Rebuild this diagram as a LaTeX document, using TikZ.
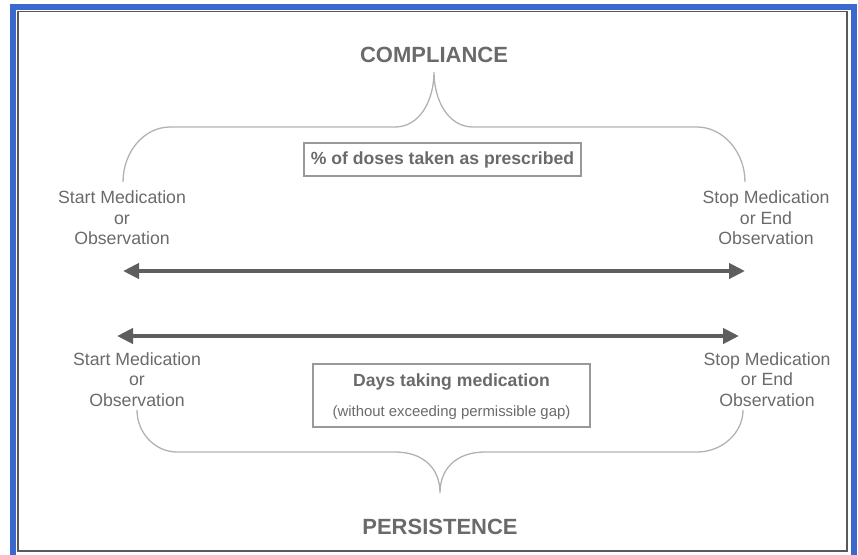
\documentclass[tikz,border=0pt]{standalone}
\usepackage{fontspec}
\setmainfont{Liberation Sans}
\usepackage{tikz}
\usepackage{xcolor}
\usetikzlibrary{arrows.meta, positioning}
\definecolor{frameblue}{HTML}{3A68CF}
\definecolor{txtgray}{HTML}{6A6A6A}
\definecolor{arrgray}{HTML}{5E5E5E}
\definecolor{brcgray}{HTML}{B2B2B2}
\newcommand{\fsz}[1]{\fontsize{#1}{20.5}\selectfont}

\begin{document}
\begin{tikzpicture}[x=1pt, y=-1pt, on grid, node distance=20pt, endtxt/.style={align=center, text=txtgray, font=\fsz{17.7}, inner sep=0pt}, heading/.style={text=txtgray, font=\bfseries\fsz{22}, inner sep=0pt}, box/.style={rectangle, draw=black!40, line width=1.2pt, inner sep=0pt, minimum width=277pt}, span/.style={draw=arrgray, line width=4pt, {Triangle[length=16pt,width=15pt]}-{Triangle[length=16pt,width=15pt]}}, brace/.style={draw=brcgray, line width=1.3pt}]

            \useasboundingbox (0,0) rectangle (858,554);
            \draw[frameblue, line width=6pt] (13,7) rectangle (854,575);
            \draw[black!65, line width=1.5pt] (18,11.5) rectangle (847,551);

            \node[heading] (C) at (434,55) {COMPLIANCE};
            \node[box, minimum height=33pt, text=txtgray, font=\bfseries\fsz{17.6}] (D) at (442.5,159.5) {\% of doses taken as prescribed};
            \node[endtxt] (S1) at (122,218) {Start Medication\\or\\Observation};
            \node[endtxt, right=644pt of S1] (E1) {Stop Medication\\or End\\Observation};
            \node[endtxt] (S2) at (137,379.5) {Start Medication\\or\\Observation};
            \node[endtxt, right=630pt of S2] (E2) {Stop Medication\\or End\\Observation};
            \node[box, minimum height=63pt] (G) at (451.5,395.5) {};
            \node[text=txtgray, font=\bfseries\fsz{17.6}, inner sep=0pt, above=13.5pt of G] (G1) {Days taking medication};
            \node[text=txtgray, font=\fsz{14.9}, inner sep=0pt, below=17.5pt of G] (G2) {(without exceeding permissible gap)};
            \node[heading] (P) at (440,527) {PERSISTENCE};

            \coordinate (a1) at (123,271);
            \coordinate (a2) at (745,271);
            \coordinate (b1) at (117,336);
            \coordinate (b2) at (739,336);
            \coordinate (t1) at (123,182);
            \coordinate (t0) at (434,72);
            \coordinate (t2) at (745,182);
            \coordinate (p1) at (137,410);
            \coordinate (p0) at (440,493);
            \coordinate (p2) at (743,410);

            \draw[brace] (t1) .. controls +(0,-30) and +(-26,0) .. (170,127) -- (395,127) .. controls +(25,0) and +(0,28) .. (t0) .. controls +(0,28) and +(-25,0) .. (473,127) -- (697,127) .. controls +(26,0) and +(0,-30) .. (t2);
            \draw[brace] (p1) .. controls +(0,23) and +(-22,0) .. (177,452) -- (395,452) .. controls +(28,0) and +(0,-25) .. (p0) .. controls +(0,-25) and +(-28,0) .. (485,452) -- (697,452) .. controls +(25,0) and +(0,23) .. (p2);

            \draw[span] (a1) -- (a2);
            \draw[span] (b1) -- (b2);

        \end{tikzpicture}
\end{document}
